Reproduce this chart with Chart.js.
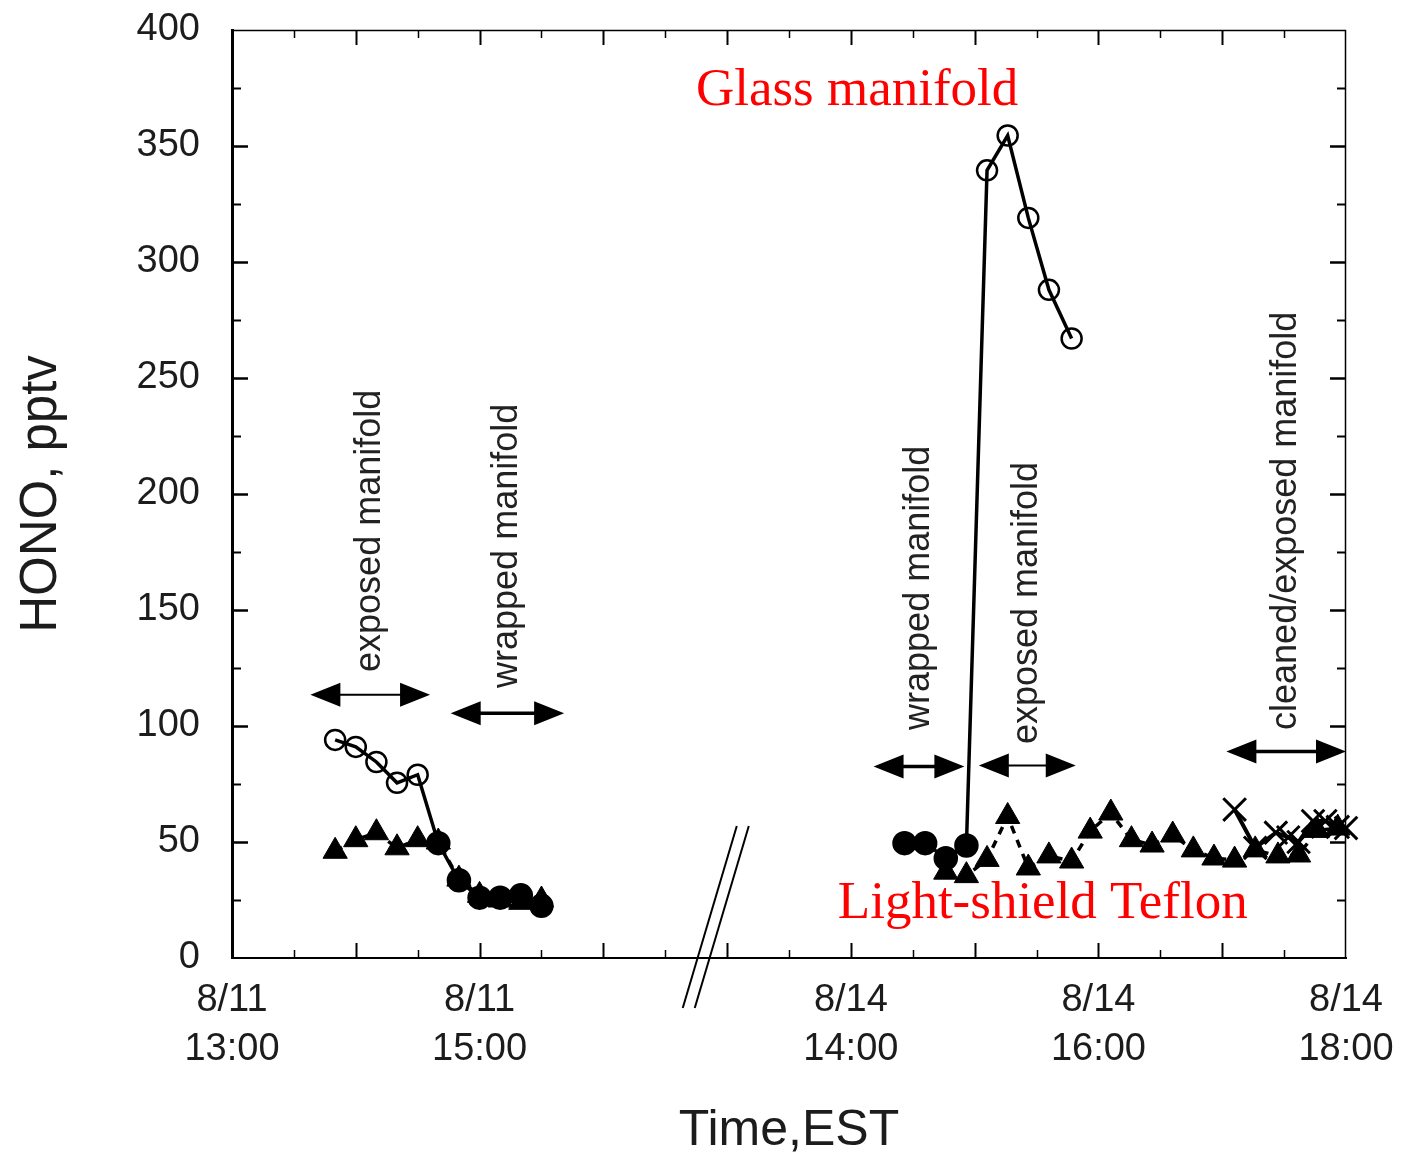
<!DOCTYPE html>
<html>
<head>
<meta charset="utf-8">
<script src="https://cdn.jsdelivr.net/npm/chart.js@4.4.1/dist/chart.umd.min.js"></script>
<style>
  html, body { margin: 0; padding: 0; background: #fff; }
  canvas { display: block; }
</style>
</head>
<body>
<canvas id="c" width="1407" height="1155"></canvas>
<script>
// Position on the broken time axis, in hours:
// 8/11 13:00 -> 0 ... 8/14 14:00 -> 5 ... 8/14 18:00 -> 9
function pos(day, hm) {
  const [h, m] = hm.split(':').map(Number);
  const hours = h + m / 60;
  return day === '8/11' ? hours - 13 : hours - 14 + 5;
}

// Labelled ticks on the time axis
const tickDays  = ['8/11', '8/11', '8/14', '8/14', '8/14'];
const tickTimes = ['13:00', '15:00', '14:00', '16:00', '18:00'];

// Circle series, 8/11 (open = glass manifold, filled = light-shield Teflon)
const circle811Times  = ['13:50', '14:00', '14:10', '14:20', '14:30', '14:40', '14:50', '15:00', '15:10', '15:20', '15:30'];
const circle811Values = [94, 91, 84.5, 75.5, 79, 49.5, 33.5, 26, 26, 27, 22.5];
const circle811Inlet  = ['glass', 'glass', 'glass', 'glass', 'glass', 'teflon', 'teflon', 'teflon', 'teflon', 'teflon', 'teflon'];

// Circle series, 8/14
const circle814Times  = ['14:26', '14:36', '14:46', '14:56', '15:06', '15:16', '15:26', '15:36', '15:47'];
const circle814Values = [49.5, 49.5, 43, 48.5, 339.5, 354.5, 319, 288, 267];
const circle814Inlet  = ['teflon', 'teflon', 'teflon', 'teflon', 'glass', 'glass', 'glass', 'glass', 'glass'];

// Triangle series (light-shielded Teflon line)
const triangle811Times  = ['13:50', '14:00', '14:10', '14:20', '14:30', '14:40', '14:50', '15:00', '15:10', '15:20', '15:30'];
const triangle811Values = [46, 51, 54, 47.5, 51, 50, 34, 27, 25, 24, 25];
const triangle814Times  = ['14:46', '14:56', '15:06', '15:16', '15:26', '15:36', '15:47', '15:56', '16:06', '16:16',
                           '16:26', '16:36', '16:46', '16:56', '17:06', '17:16', '17:27', '17:37', '17:46', '17:56'];
const triangle814Values = [37, 35.5, 42.5, 61, 38.8, 44, 41.8, 54.7, 62.5, 51,
                           48.7, 53, 46.6, 43.1, 42.2, 46.6, 44, 44.4, 55, 56];

// Cross series (cleaned/exposed manifold), 8/14
const crossTimes  = ['17:06', '17:16', '17:26', '17:32', '17:37', '17:44', '17:50', '17:56', '18:00'];
const crossValues = [64, 47.5, 54, 52, 50, 59, 59, 56.5, 56];

// Sampling-period annotations (double arrows with rotated captions)
const spanDays   = ['8/11', '8/11', '8/14', '8/14', '8/14'];
const spanStarts = ['13:38', '14:46', '14:11', '15:02', '17:02'];
const spanEnds   = ['14:36', '15:41', '14:55', '15:49', '18:00'];
const spanLevels = [113.5, 105.5, 82.5, 83, 89];
const spanLabelBase = [123.3, 116.4, 98.3, 92.2, 98.3];
const spanLabels = ['exposed manifold', 'wrapped manifold', 'wrapped manifold', 'exposed manifold', 'cleaned/exposed manifold'];
const spanShaftWidths = [2, 3.5, 3.5, 2, 3.5];

// Red captions
const captionTexts  = ['Glass manifold', 'Light-shield Teflon'];
const captionTimes  = ['14:03', '15:33'];
const captionLevels = [367.7, 17.2];

const BLACK = '#000';
const TEXT = '#1c1c1c';
const SANS = "'Liberation Sans', Arial, Helvetica, sans-serif";
const SERIF = "'Liberation Serif', 'Times New Roman', serif";

function pts(day, times, values) {
  return times.map((t, i) => ({ x: pos(day, t), y: values[i] }));
}

const circleData = pts('8/11', circle811Times, circle811Values)
  .concat([{ x: 3.8, y: null }])
  .concat(pts('8/14', circle814Times, circle814Values));
const circleInlet = circle811Inlet.concat(['teflon']).concat(circle814Inlet);

const triangleData = pts('8/11', triangle811Times, triangle811Values)
  .concat([{ x: 3.8, y: null }])
  .concat(pts('8/14', triangle814Times, triangle814Values));

const crossData = pts('8/14', crossTimes, crossValues);

const tickPositions = tickDays.map((d, i) => pos(d, tickTimes[i]));

function seg(ctx, x1, y1, x2, y2) {
  ctx.beginPath(); ctx.moveTo(x1, y1); ctx.lineTo(x2, y2); ctx.stroke();
}

const decor = {
  id: 'decor',
  afterDraw(chart) {
    const { ctx, chartArea: a, scales: { x, y } } = chart;
    ctx.save();
    ctx.strokeStyle = BLACK;
    ctx.fillStyle = BLACK;
    ctx.lineCap = 'butt';

    // top and right frame
    ctx.lineWidth = 1.5;
    ctx.beginPath();
    ctx.moveTo(a.left, a.top + 0.5);
    ctx.lineTo(a.right - 0.5, a.top + 0.5);
    ctx.lineTo(a.right - 0.5, a.bottom);
    ctx.stroke();

    // inward ticks on the value axis (both sides)
    for (let v = 25; v < 400; v += 25) {
      const py = Math.round(y.getPixelForValue(v)) + 0.5;
      const major = v % 50 === 0;
      const len = major ? 16 : 9;
      ctx.lineWidth = major ? 2.5 : 2;
      seg(ctx, a.left, py, a.left + len, py);
      seg(ctx, a.right, py, a.right - len, py);
    }
    // inward ticks on the time axis (bottom and top), every half hour
    for (let k = 1; k < 18; k++) {
      const h = k / 2;
      const px = Math.round(x.getPixelForValue(h)) + 0.5;
      const major = k % 2 === 0;
      const len = major ? 15 : 8;
      ctx.lineWidth = major ? 2 : 1.5;
      seg(ctx, px, a.bottom, px, a.bottom - len);
      seg(ctx, px, a.top, px, a.top + len);
    }

    // double arrows with rotated captions
    spanLabels.forEach((label, i) => {
      const x1 = x.getPixelForValue(pos(spanDays[i], spanStarts[i]));
      const x2 = x.getPixelForValue(pos(spanDays[i], spanEnds[i]));
      const py = y.getPixelForValue(spanLevels[i]);
      const head = 30, half = 12;
      ctx.lineWidth = spanShaftWidths[i];
      seg(ctx, x1 + head - 2, py, x2 - head + 2, py);
      ctx.beginPath();
      ctx.moveTo(x1, py); ctx.lineTo(x1 + head, py - half); ctx.lineTo(x1 + head, py + half); ctx.closePath();
      ctx.fill();
      ctx.beginPath();
      ctx.moveTo(x2, py); ctx.lineTo(x2 - head, py - half); ctx.lineTo(x2 - head, py + half); ctx.closePath();
      ctx.fill();

      const tx = (x1 + x2) / 2;
      const ty = y.getPixelForValue(spanLabelBase[i]);
      ctx.save();
      ctx.translate(tx, ty);
      ctx.rotate(-Math.PI / 2);
      ctx.font = '36px ' + SANS;
      ctx.fillStyle = '#222';
      ctx.textAlign = 'left';
      ctx.textBaseline = 'middle';
      ctx.fillText(label, 0, 0);
      ctx.restore();
    });

    // red captions
    ctx.fillStyle = '#ff0000';
    ctx.font = '53px ' + SERIF;
    ctx.textAlign = 'center';
    ctx.textBaseline = 'alphabetic';
    captionTexts.forEach((t, i) => {
      ctx.fillText(t, x.getPixelForValue(pos('8/14', captionTimes[i])), y.getPixelForValue(captionLevels[i]));
    });

    // axis-break marks between the two days
    const cx = x.getPixelForValue(3.81);
    const by = a.bottom;
    const slope = 0.297;
    ctx.strokeStyle = BLACK;
    ctx.lineWidth = 2;
    [-6, 6].forEach(off => {
      const xb = cx + off;
      seg(ctx, xb - slope * 50, by + 50, xb + slope * 132, by - 132);
    });

    ctx.restore();
  }
};

new Chart(document.getElementById('c'), {
  type: 'line',
  data: {
    datasets: [
      {
        label: 'HONO (circles)',
        data: circleData,
        borderColor: BLACK,
        borderWidth: 3.5,
        pointStyle: 'circle',
        pointRadius: circleInlet.map(s => s === 'glass' ? 10 : 11),
        pointBorderWidth: 2.5,
        pointBorderColor: BLACK,
        pointBackgroundColor: circleInlet.map(s => s === 'glass' ? 'rgba(255,255,255,0)' : BLACK),
        spanGaps: false,
        tension: 0,
        order: 1,
        clip: false
      },
      {
        label: 'HONO (triangles)',
        data: triangleData,
        borderColor: BLACK,
        borderWidth: 3.5,
        borderDash: [8, 7],
        pointStyle: 'triangle',
        pointRadius: 14,
        pointBorderWidth: 1,
        pointBorderColor: BLACK,
        pointBackgroundColor: BLACK,
        spanGaps: false,
        tension: 0,
        order: 2,
        clip: false
      },
      {
        label: 'HONO (crosses)',
        data: crossData,
        borderColor: BLACK,
        borderWidth: 4,
        pointStyle: 'crossRot',
        pointRadius: 16,
        pointBorderWidth: 3,
        pointBorderColor: BLACK,
        tension: 0,
        order: 0,
        clip: false
      }
    ]
  },
  options: {
    responsive: false,
    animation: false,
    events: [],
    layout: { autoPadding: false, padding: { top: 30, right: 61, left: 0, bottom: 0 } },
    plugins: { legend: { display: false }, tooltip: { enabled: false } },
    scales: {
      x: {
        type: 'linear',
        min: 0,
        max: 9,
        afterFit(scale) {
          scale.height = 197;
          scale.paddingLeft = 0;
          scale.paddingRight = 0;
        },
        afterBuildTicks(scale) { scale.ticks = tickPositions.map(v => ({ value: v })); },
        grid: { display: false, drawTicks: false },
        border: { display: true, color: BLACK, width: 2 },
        ticks: {
          autoSkip: false,
          maxRotation: 0,
          padding: 18,
          color: TEXT,
          font: { family: SANS, size: 38, lineHeight: 1.29 },
          callback(value) {
            const i = tickPositions.indexOf(value);
            return i >= 0 ? [tickDays[i], tickTimes[i]] : '';
          }
        },
        title: {
          display: true,
          text: 'Time,EST',
          color: TEXT,
          font: { family: SANS, size: 50, lineHeight: 0.9 },
          padding: { top: 0, bottom: 1 }
        }
      },
      y: {
        min: 0,
        max: 400,
        afterFit(scale) {
          scale.width = 232;
          scale.paddingTop = 0;
          scale.paddingBottom = 0;
        },
        grid: { display: false, drawTicks: false },
        border: { display: true, color: BLACK, width: 3 },
        ticks: {
          stepSize: 50,
          padding: 32,
          color: TEXT,
          font: { family: SANS, size: 38 }
        },
        title: {
          display: true,
          text: 'HONO, pptv',
          color: TEXT,
          font: { family: SANS, size: 51, lineHeight: 1.2 },
          padding: { top: 11, bottom: 0 }
        }
      }
    }
  },
  plugins: [decor]
});
</script>
</body>
</html>
